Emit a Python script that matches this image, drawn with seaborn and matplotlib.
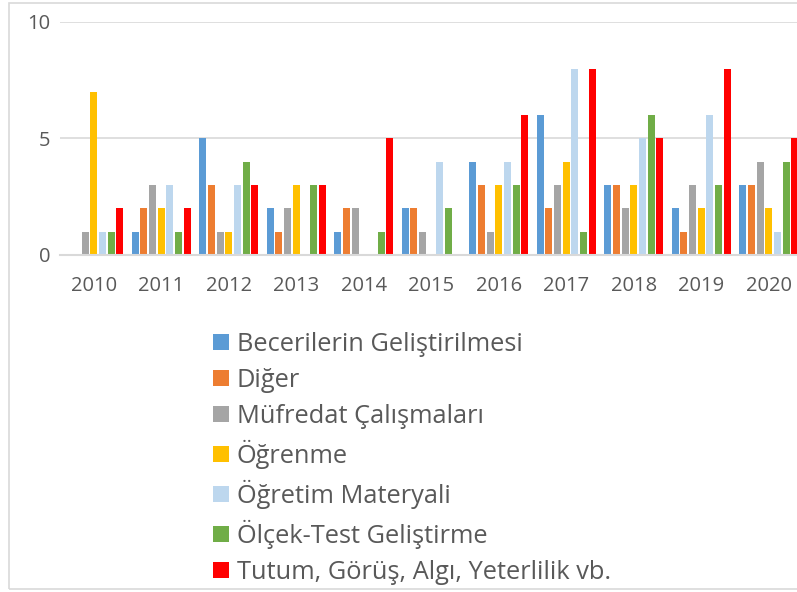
import matplotlib
matplotlib.use("Agg")
import matplotlib.pyplot as plt
from matplotlib.patches import Rectangle
import seaborn as sns
import pandas as pd

# years on the x axis
years = ["2010", "2011", "2012", "2013", "2014", "2015",
         "2016", "2017", "2018", "2019", "2020"]

# one list per category
beceriler = [0, 1, 5, 2, 1, 2, 4, 6, 3, 2, 3]
diger = [0, 2, 3, 1, 2, 2, 3, 2, 3, 1, 3]
mufredat = [1, 3, 1, 2, 2, 1, 1, 3, 2, 3, 4]
ogrenme = [7, 2, 1, 3, 0, 0, 3, 4, 3, 2, 2]
materyal = [1, 3, 3, 0, 0, 4, 4, 8, 5, 6, 1]
olcek = [1, 1, 4, 3, 1, 2, 3, 1, 6, 3, 4]
tutum = [2, 2, 3, 3, 5, 0, 6, 8, 5, 8, 5]

series_names = [
    "Becerilerin Geliştirilmesi",
    "Diğer",
    "Müfredat Çalışmaları",
    "Öğrenme",
    "Öğretim Materyali",
    "Ölçek-Test Geliştirme",
    "Tutum, Görüş, Algı, Yeterlilik vb.",
]
series_values = [beceriler, diger, mufredat, ogrenme, materyal, olcek, tutum]
colors = ["#5B9BD5", "#ED7D31", "#A5A5A5", "#FFC000",
          "#BDD7EE", "#70AD47", "#FF0000"]

rows = []
for name, vals in zip(series_names, series_values):
    for year, v in zip(years, vals):
        rows.append({"year": year, "value": v, "series": name})
df = pd.DataFrame(rows)

sns.set_theme(style="white")
plt.rcParams["font.family"] = ["Open Sans", "DejaVu Sans"]

fig = plt.figure(figsize=(7.97, 5.92), dpi=100)
ax = fig.add_axes([60 / 797, 1 - 255 / 592, 742.5 / 797, 233 / 592])

sns.barplot(data=df, x="year", y="value", hue="series",
            palette=colors, saturation=1, width=0.9, gap=0.18, ax=ax,
            edgecolor="none", legend=True)

ax.set_ylim(0, 10)
ax.set_xlim(-0.5, len(years) - 0.5)
ax.set_yticks([0, 5, 10])
ax.set_xlabel("")
ax.set_ylabel("")
ax.yaxis.grid(True, color="#D9D9D9", linewidth=1.2)
ax.set_axisbelow(True)
for side in ["top", "right", "left"]:
    ax.spines[side].set_visible(False)
ax.spines["bottom"].set_color("#D9D9D9")
ax.spines["bottom"].set_linewidth(1.5)
ax.tick_params(axis="both", length=0, labelsize=14.5, colors="#595959")
ax.tick_params(axis="y", pad=7)
ax.tick_params(axis="x", pad=15)

handles, labels = ax.get_legend_handles_labels()
ax.legend_.remove()
fig.legend(handles, labels, loc="upper left",
           bbox_to_anchor=(190 / 797, 1 - 309 / 592),
           frameon=False, fontsize=18.3, labelcolor="#595959",
           handlelength=0.63, handleheight=0.6, handletextpad=0.3,
           labelspacing=0.43)

# light frame round the chart area
fig.patches.append(Rectangle((9 / 797, 1 - 589 / 592), 1.0, 586 / 592,
                             transform=fig.transFigure, fill=False,
                             edgecolor="#D9D9D9", linewidth=1.2))

fig.savefig("out.png", dpi=100)
